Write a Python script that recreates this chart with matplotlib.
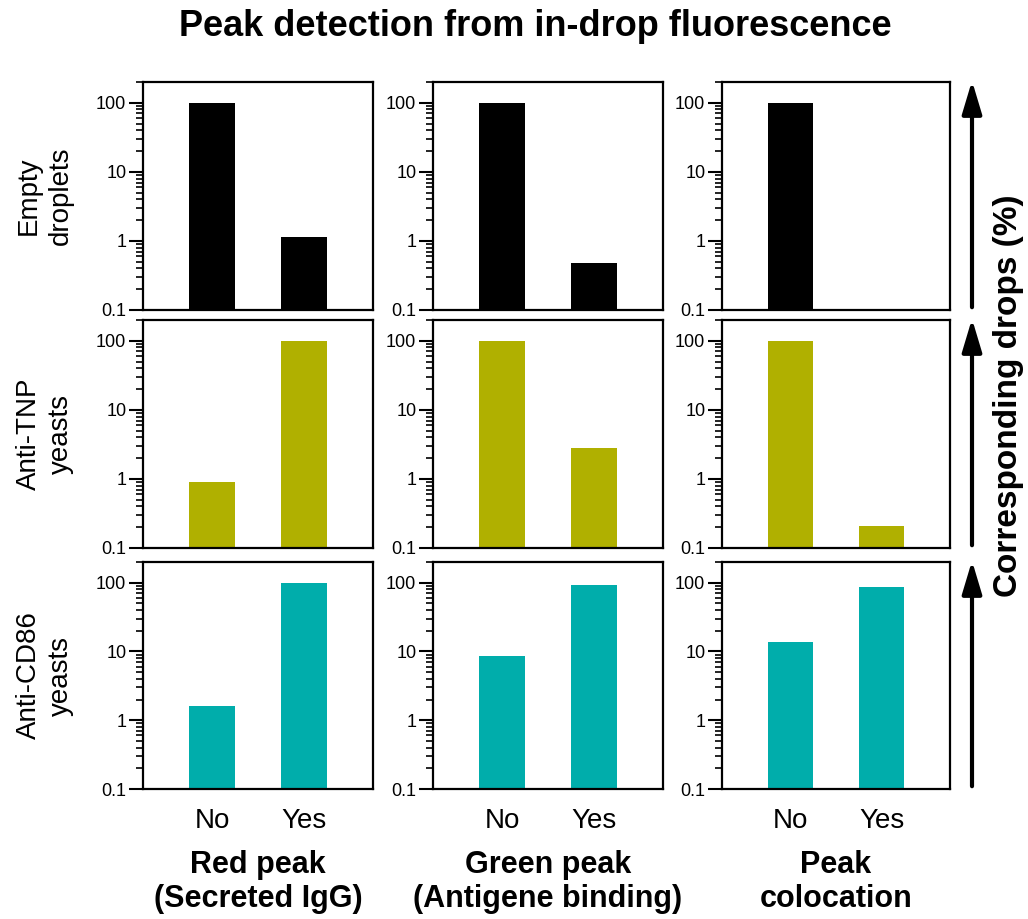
import numpy as np
import matplotlib.pyplot as plt
from matplotlib.patches import FancyArrowPatch
from matplotlib.ticker import LogLocator, NullFormatter, FixedLocator

plt.rcParams["font.family"] = ["Liberation Sans", "DejaVu Sans"]

categories = ["No", "Yes"]
row_labels = ["Empty\ndroplets", "Anti-TNP\nyeasts", "Anti-CD86\nyeasts"]
col_titles = ["Red peak\n(Secreted IgG)", "Green peak\n(Antigene binding)", "Peak\ncolocation"]
row_colors = ["#000000", "#b0b000", "#00adab"]

# percent of drops, rows = sample type, cols = peak type, values = [No, Yes]
empty_red = [100, 1.15]
empty_green = [100, 0.48]
empty_coloc = [100, np.nan]
tnp_red = [0.9, 100]
tnp_green = [100, 2.8]
tnp_coloc = [100, 0.21]
cd86_red = [1.6, 100]
cd86_green = [8.5, 94]
cd86_coloc = [13.7, 87]

values = [
    [empty_red, empty_green, empty_coloc],
    [tnp_red, tnp_green, tnp_coloc],
    [cd86_red, cd86_green, cd86_coloc],
]

W, H = 1028, 919
fig = plt.figure(figsize=(W / 100, H / 100), dpi=100)

col_left = [143, 433, 722]
col_right = [373, 663, 950]
row_top = [82, 320, 562]
row_bot = [310, 548, 789]

x = np.arange(len(categories))
for r in range(3):
    for c in range(3):
        ax = fig.add_axes([col_left[c] / W, 1 - row_bot[r] / H,
                           (col_right[c] - col_left[c]) / W, (row_bot[r] - row_top[r]) / H])
        ax.bar(x, values[r][c], width=0.5, color=row_colors[r])
        ax.set_yscale("log")
        ax.set_ylim(0.1, 200)
        ax.set_xlim(-0.75, 1.75)
        ax.yaxis.set_major_locator(FixedLocator([0.1, 1, 10, 100]))
        ax.set_yticklabels(["0.1", "1", "10", "100"], fontsize=13)
        ax.yaxis.set_minor_locator(LogLocator(base=10, subs=np.arange(2, 10)))
        ax.yaxis.set_minor_formatter(NullFormatter())
        ax.tick_params(axis="y", which="major", length=10, width=1.5, pad=2)
        ax.tick_params(axis="y", which="minor", length=5, width=1.2)
        for s in ax.spines.values():
            s.set_linewidth(1.6)
        ax.set_xticks(x)
        if r == 2:
            ax.set_xticklabels(categories, fontsize=20)
            ax.tick_params(axis="x", length=0, pad=14)
        else:
            ax.set_xticklabels([])
            ax.tick_params(axis="x", length=0)

# row labels
for r in range(3):
    yc = (row_top[r] + row_bot[r]) / 2
    fig.text(45 / W, 1 - yc / H, row_labels[r], rotation=90, ha="center", va="center",
             fontsize=20, multialignment="center", linespacing=1.3)

# column labels
for c in range(3):
    xc = (col_left[c] + col_right[c]) / 2
    fig.text(xc / W, 1 - 882 / H, col_titles[c], ha="center", va="center",
             fontsize=22, fontweight="bold", multialignment="center", linespacing=1.15)

fig.text(535 / W, 1 - 26 / H, "Peak detection from in-drop fluorescence",
         ha="center", va="center", fontsize=26, fontweight="bold")

# arrows on the right
for r in range(3):
    fig.add_artist(FancyArrowPatch(
        (972 / W, 1 - row_bot[r] / H), (972 / W, 1 - (row_top[r] - 4) / H),
        transform=fig.transFigure, arrowstyle="-|>,head_length=1.0,head_width=0.3",
        mutation_scale=20, linewidth=3, color="black"))

fig.text(1008 / W, 1 - 396 / H, "Corresponding drops (%)", rotation=90,
         ha="center", va="center", fontsize=24, fontweight="bold")

fig.savefig("out.png", dpi=100)
